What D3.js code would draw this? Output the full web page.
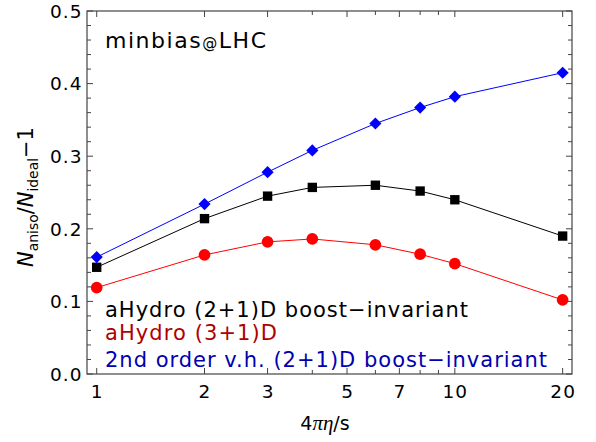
<!DOCTYPE html>
<html><head><meta charset="utf-8">
<script src="https://cdn.jsdelivr.net/npm/d3@7"></script>
<style>body{margin:0;background:#fff}svg{display:block}text{font-family:"DejaVu Sans",sans-serif}</style>
</head><body>
<svg id="c" width="596" height="442"></svg>
<script>
const etaS = [1, 2, 3, 4, 6, 8, 10, 20];
const vhBoostInv = [0.161, 0.234, 0.278, 0.308, 0.345, 0.367, 0.382, 0.415];
const aHydro21 = [0.147, 0.214, 0.245, 0.257, 0.260, 0.252, 0.240, 0.190];
const aHydro31 = [0.119, 0.164, 0.182, 0.186, 0.178, 0.165, 0.152, 0.102];
const xTicks = [1, 2, 3, 4, 5, 6, 7, 8, 9, 10, 20];
const xTickLabels = [1, 2, 3, 5, 7, 10, 20];
const yMajor = [0, 0.1, 0.2, 0.3, 0.4, 0.5];
const legendLabels = ["aHydro (2+1)D boost\u2212invariant", "aHydro (3+1)D", "2nd order v.h. (2+1)D boost\u2212invariant"];

const svg = d3.select("#c");
const L = 87, R = 572, T = 11, B = 374;
const x = d3.scaleLog().domain([0.9395, 21.24]).range([L, R]);
const y = d3.scaleLinear().domain([0, 0.5]).range([B, T]);
const ax = "#444";

// frame
svg.append("rect").attr("x", L).attr("y", T).attr("width", R - L).attr("height", B - T)
  .attr("fill", "none").attr("stroke", ax).attr("stroke-width", 1.2);

// x ticks
const g = svg.append("g");
xTicks.forEach(t => {
  const len = xTickLabels.includes(t) ? 6 : 4;
  g.append("line").attr("x1", x(t)).attr("x2", x(t)).attr("y1", B).attr("y2", B - len).attr("stroke", ax);
  g.append("line").attr("x1", x(t)).attr("x2", x(t)).attr("y1", T).attr("y2", T + len).attr("stroke", ax);
});
xTickLabels.forEach(t => {
  g.append("text").attr("x", x(t) + 0.5).attr("y", 398).attr("text-anchor", "middle")
    .attr("font-size", 18.5).attr("letter-spacing", 1).text(t);
});
// y ticks
d3.range(0, 0.5001, 0.02).forEach(v => {
  const major = yMajor.some(m => Math.abs(m - v) < 1e-6);
  const len = major ? 6 : 4;
  g.append("line").attr("x1", L).attr("x2", L + len).attr("y1", y(v)).attr("y2", y(v)).attr("stroke", ax);
  g.append("line").attr("x1", R).attr("x2", R - len).attr("y1", y(v)).attr("y2", y(v)).attr("stroke", ax);
});
yMajor.forEach(v => {
  g.append("text").attr("x", 50).attr("y", y(v) + 6.8)
    .attr("font-size", 18.5).attr("textLength", 31.5).attr("lengthAdjust", "spacing").text(v.toFixed(1));
});

// series
const diamond = {draw(ctx, size) { const r = Math.sqrt(size / 2); ctx.moveTo(0, -r); ctx.lineTo(r, 0); ctx.lineTo(0, r); ctx.lineTo(-r, 0); ctx.closePath(); }};
const series = [
  {vals: aHydro21, color: "#000", shape: d3.symbolSquare, size: 88},
  {vals: aHydro31, color: "#ff0000", shape: d3.symbolCircle, size: 108},
  {vals: vhBoostInv, color: "#0000ff", shape: diamond, size: 74},
];
const line = d3.line().x(d => x(d[0])).y(d => y(d[1]));
series.forEach(s => {
  const pts = etaS.map((e, i) => [e, s.vals[i]]);
  svg.append("path").attr("d", line(pts)).attr("fill", "none").attr("stroke", s.color).attr("stroke-width", 1);
  svg.append("g").selectAll("path").data(pts).join("path")
    .attr("transform", d => `translate(${x(d[0])},${y(d[1])})`)
    .attr("d", d3.symbol(s.shape, s.size)).attr("fill", s.color);
});

// title
const t1 = svg.append("text").attr("x", 105).attr("y", 47.5).attr("font-size", 22)
  .attr("textLength", 161).attr("lengthAdjust", "spacing");
t1.append("tspan").text("minbias");
t1.append("tspan").attr("font-size", 15).text("@");
t1.append("tspan").text("LHC");

// legend
const legCols = ["#000", "#b00000", "#0000b0"];
const legY = [316.5, 340, 366.5];
const legW = [363, 172, 442];
legendLabels.forEach((l, i) => {
  svg.append("text").attr("x", 105).attr("y", legY[i]).attr("font-size", 21)
    .attr("textLength", legW[i]).attr("lengthAdjust", "spacing")
    .attr("fill", legCols[i]).text(l);
});

// x label
const xl = svg.append("text").attr("x", 325).attr("y", 430).attr("font-size", 19)
  .attr("text-anchor", "middle");
xl.append("tspan").text("4");
xl.append("tspan").attr("font-family", "Liberation Serif").attr("font-style", "italic").attr("font-size", 21).text("\u03C0\u03B7");
xl.append("tspan").text("/s");

// y label
const yl = svg.append("text").attr("transform", "translate(33,267) rotate(-90)")
  .attr("font-size", 21).attr("textLength", 140).attr("lengthAdjust", "spacing");
yl.append("tspan").attr("font-style", "italic").text("N");
yl.append("tspan").attr("font-size", 14).attr("dy", 5).text("aniso");
yl.append("tspan").attr("dy", -5).text("/");
yl.append("tspan").attr("font-style", "italic").text("N");
yl.append("tspan").attr("font-size", 14).attr("dy", 5).text("ideal");
yl.append("tspan").attr("dy", -5).text("\u22121");
</script>
</body></html>
